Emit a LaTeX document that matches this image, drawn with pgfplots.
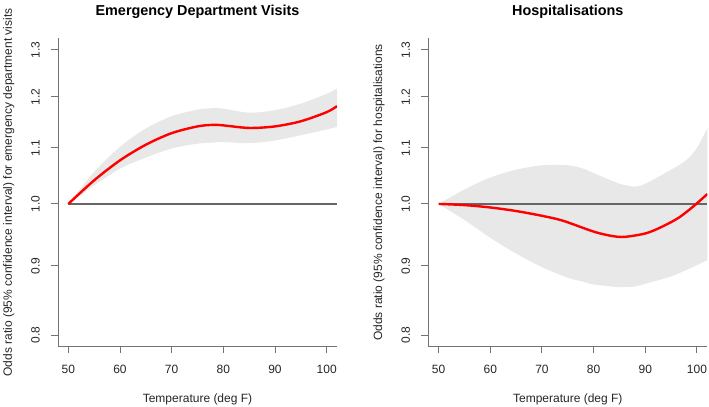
\documentclass[border=0pt]{standalone}
\usepackage{fontspec}
\setmainfont{Liberation Sans}
\usepackage{pgfplots}
\pgfplotsset{compat=1.18}

\newcommand{\tlfont}{\fontsize{12bp}{14bp}\selectfont}
\pgfplotsset{rstyle/.style={
  scale only axis, width=279bp, height=308.2bp,
  xmin=48, xmax=102, ymin=0.7847, ymax=1.3255,
  axis x line*=bottom, axis y line*=left,
  axis line style={black!55, line width=1bp},
  every tick/.style={black!55, line width=1bp},
  tick align=outside, major tick length=7bp,
  minor tick num=0,
  xtick={50,60,70,80,90,100}, xticklabels={50,60,70,80,90,100},
  ytick={0.8,0.9,1.0,1.1,1.2,1.3},
  yticklabels={},
  xticklabel shift=8.5bp,
  xticklabel style={font=\tlfont, text=black!85},
  label style={font=\tlfont, text=black!85},
  xlabel={Temperature (deg F)},
  xlabel style={at={(axis description cs:0.5,-0.1801)}, anchor=base},
  ylabel style={at={(axis description cs:-0.1651,0.5)}, anchor=base},
  every axis title shift=0pt,
  title style={at={(axis description cs:0.5,1.0756)}, anchor=base,
    font=\bfseries\fontsize{14.4bp}{17bp}\selectfont},
}}

% Emergency department visits: fitted odds ratio
\pgfplotstableread{
x    fit
50   1.000
55   1.041
60   1.077
65   1.106
70   1.128
75   1.141
78   1.144
80   1.143
85   1.138
90   1.141
95   1.151
100  1.169
102  1.181
}\edfit

% ED 95% CI band: upper (50 -> 105) then lower (105 -> 50)
\pgfplotstableread{
x    y
50   1.000
55   1.056
60   1.102
65   1.137
70   1.161
75   1.174
78   1.177
80   1.176
85   1.168
90   1.173
95   1.186
100  1.206
102  1.217
105  1.232
105  1.149
102  1.140
100  1.135
95   1.124
90   1.114
85   1.109
80   1.111
78   1.110
75   1.108
70   1.099
65   1.082
60   1.062
55   1.032
50   1.000
}\edband

% Hospitalisations: fitted odds ratio
\pgfplotstableread{
x     fit
50    1.000
55    0.998
60    0.994
65    0.988
70    0.980
74    0.972
80    0.954
83.5  0.947
86    0.9455
90    0.951
93    0.961
96.5  0.977
99.6  0.998
102   1.017
}\hfit

% Hospitalisations 95% CI band: upper then lower reversed
\pgfplotstableread{
x    y
50   1.000
55   1.025
60   1.046
65   1.060
70   1.068
75   1.068
78   1.062
80   1.054
85   1.035
88   1.030
90   1.035
95   1.060
98   1.078
100  1.100
102  1.137
105  1.190
105  0.920
102  0.909
100  0.901
98   0.894
95   0.884
90   0.873
88   0.869
85   0.868
80   0.872
78   0.876
75   0.882
70   0.898
65   0.919
60   0.944
55   0.973
50   1.000
}\hband

\begin{document}
\begin{tikzpicture}
\begin{axis}[ymode=log, rstyle, at={(58bp,60.5bp)}, anchor=south west,
  title={Emergency Department Visits},
  ylabel={Odds ratio (95\% confidence interval) for emergency department visits},
  /pgf/number format/assume math mode=true]
  \addplot[fill=black!9, draw=none, smooth] table[x=x, y=y] {\edband} -- cycle;
  \addplot[black!60, line width=1.2bp] coordinates {(50,1) (102,1)};
  \addplot[red, line width=2.4bp, smooth] table[x=x, y=fit] {\edfit};
\end{axis}
\begin{axis}[ymode=log, rstyle, at={(428.3bp,60.5bp)}, anchor=south west,
  title={Hospitalisations},
  ylabel={Odds ratio (95\% confidence interval) for hospitalisations},
  /pgf/number format/assume math mode=true]
  \addplot[fill=black!9, draw=none, smooth] table[x=x, y=y] {\hband} -- cycle;
  \addplot[black!60, line width=1.2bp] coordinates {(50,1) (102,1)};
  \addplot[red, line width=2.4bp, smooth] table[x=x, y=fit] {\hfit};
\end{axis}
% rotated y tick labels (log axis positions of 0.8 ... 1.3)
\foreach \xc in {35.5, 405.8} {
  \foreach \yy/\lab in {71.85/0.8, 141.09/0.9, 203.03/1.0, 259.06/1.1, 310.21/1.2, 357.27/1.3} {
    \node[rotate=90, font=\tlfont, text=black!85, inner sep=0pt, anchor=center]
      at (\xc bp, \yy bp) {\lab};
  }
}
\pgfresetboundingbox
\path[use as bounding box] (0,0) rectangle (709bp,407bp);
\end{tikzpicture}
\end{document}
